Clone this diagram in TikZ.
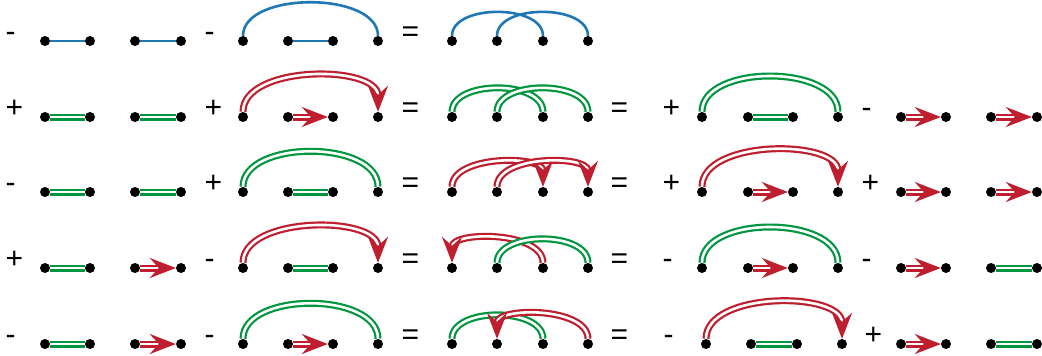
\documentclass[tikz,border=0pt]{standalone}
\usepackage{fontspec}
\setmainfont{Liberation Sans}
\usetikzlibrary{arrows.meta}
\definecolor{lineblue}{RGB}{31,119,180}
\definecolor{linegreen}{RGB}{0,150,64}
\definecolor{linered}{RGB}{190,30,45}
\begin{document}
\begin{tikzpicture}[x=1pt,y=1pt,
  dot/.style={circle,fill=black,inner sep=0pt,minimum size=10pt},
  sgn/.style={anchor=base west,inner sep=0pt,font=\fontsize{30}{36}\selectfont},
  bl/.style={draw=lineblue,line width=2.6pt},
  gr/.style={draw=linegreen,line width=2.2pt,double=white,double distance=2.6pt},
  rd/.style={draw=linered,line width=2.2pt,double=white,double distance=2.6pt,
    -{Stealth[length=26pt,width=20pt,inset=9pt]}},
  hump/.style={out=90,in=90,looseness=.9}]
\useasboundingbox (0,0) rectangle (1042,-356);
\foreach \x [count=\i] in {45,90,135,181,243,288,333,378,452,497,543,588}
  \node[dot] (a\i) at (\x,-41) {};
\foreach \r/\y in {b/117,c/192,d/268}{
  \foreach \x [count=\i] in {45,90,135,181,243,288,333,378,452,497,543,588,702,748,793,838,901,946,991,1037}
    \node[dot] (\r\i) at (\x,-\y) {};
}
\foreach \x [count=\i] in {45,90,135,181,243,288,333,378,452,497,543,588,706,751,797,842,901,946,991,1037}
  \node[dot] (e\i) at (\x,-344) {};
\node[sgn] (sa1) at (5.5,-41) {-};
\node[sgn] (sa2) at (204.5,-41) {-};
\node[sgn] (sa3) at (401.5,-41) {=};
\node[sgn] (sb1) at (5.5,-117) {+};
\node[sgn] (sb2) at (204.5,-117) {+};
\node[sgn] (sb3) at (401.5,-117) {=};
\node[sgn] (sb4) at (610.5,-117) {=};
\node[sgn] (sb5) at (662.5,-117) {+};
\node[sgn] (sb6) at (861.5,-117) {-};
\node[sgn] (sc1) at (5.5,-192) {-};
\node[sgn] (sc2) at (204.5,-192) {+};
\node[sgn] (sc3) at (401.5,-192) {=};
\node[sgn] (sc4) at (610.5,-192) {=};
\node[sgn] (sc5) at (662.5,-192) {+};
\node[sgn] (sc6) at (861.5,-192) {+};
\node[sgn] (sd1) at (5.5,-268) {+};
\node[sgn] (sd2) at (204.5,-268) {-};
\node[sgn] (sd3) at (401.5,-268) {=};
\node[sgn] (sd4) at (610.5,-268) {=};
\node[sgn] (sd5) at (662.5,-268) {-};
\node[sgn] (sd6) at (861.5,-268) {-};
\node[sgn] (se1) at (5.5,-344) {-};
\node[sgn] (se2) at (204.5,-344) {-};
\node[sgn] (se3) at (401.5,-344) {=};
\node[sgn] (se4) at (610.5,-344) {=};
\node[sgn] (se5) at (663.5,-344) {-};
\node[sgn] (se6) at (864.5,-344) {+};
\draw[bl] (a1)--(a2);
\draw[bl] (a3)--(a4);
\draw[bl] (a5) to[hump,looseness=.85] (a8);
\draw[bl] (a6)--(a7);
\draw[bl] (a9) to[hump] (a11);
\draw[bl] (a10) to[hump] (a12);
\draw[gr] (b1)--(b2);
\draw[gr] (b3)--(b4);
\draw[rd] (b5) to[hump] (b8);
\draw[rd] (b6)--(b7);
\draw[gr] (b9) to[hump] (b11);
\draw[gr] (b10) to[hump] (b12);
\draw[gr] (b13) to[hump] (b16);
\draw[gr] (b14)--(b15);
\draw[rd] (b17)--(b18);
\draw[rd] (b19)--(b20);
\draw[gr] (c1)--(c2);
\draw[gr] (c3)--(c4);
\draw[gr] (c5) to[hump] (c8);
\draw[gr] (c6)--(c7);
\draw[rd] (c9) to[hump] (c11);
\draw[rd] (c10) to[hump] (c12);
\draw[rd] (c13) to[hump] (c16);
\draw[rd] (c14)--(c15);
\draw[rd] (c17)--(c18);
\draw[rd] (c19)--(c20);
\draw[gr] (d1)--(d2);
\draw[rd] (d3)--(d4);
\draw[rd] (d5) to[hump] (d8);
\draw[gr] (d6)--(d7);
\draw[rd] (d11) to[hump] (d9);
\draw[gr] (d10) to[hump] (d12);
\draw[gr] (d13) to[hump] (d16);
\draw[rd] (d14)--(d15);
\draw[rd] (d17)--(d18);
\draw[gr] (d19)--(d20);
\draw[gr] (e1)--(e2);
\draw[rd] (e3)--(e4);
\draw[gr] (e5) to[hump] (e8);
\draw[rd] (e6)--(e7);
\draw[gr] (e9) to[hump] (e11);
\draw[rd] (e12) to[hump] (e10);
\draw[rd] (e13) to[hump] (e16);
\draw[gr] (e14)--(e15);
\draw[rd] (e17)--(e18);
\draw[gr] (e19)--(e20);
\end{tikzpicture}
\end{document}
